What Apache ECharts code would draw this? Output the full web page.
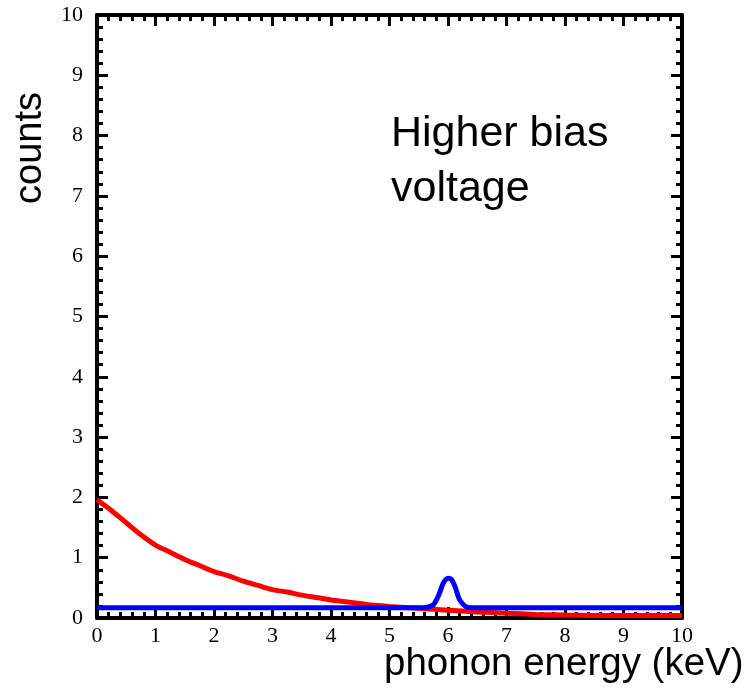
<!DOCTYPE html>
<html><head><meta charset="utf-8">
<script src="https://cdn.jsdelivr.net/npm/echarts@6/dist/echarts.min.js"></script>
<style>html,body{margin:0;padding:0;background:#fff}#c{width:753px;height:695px}</style>
</head><body><div id="c"></div>
<script>
const xTicks = [0,1,2,3,4,5,6,7,8,9,10];
const yTicks = [0,1,2,3,4,5,6,7,8,9,10];
const redX = [0,0.25,0.5,0.75,1,1.25,1.5,1.75,2,2.25,2.5,2.75,3,3.25,3.5,3.75,4,4.25,4.5,4.75,5,5.5,6,6.5,7,7.5,8,9,10];
const redY = [1.96,1.78,1.58,1.38,1.21,1.09,0.97,0.87,0.77,0.70,0.61,0.54,0.47,0.43,0.38,0.34,0.30,0.27,0.24,0.21,0.19,0.16,0.13,0.10,0.08,0.06,0.05,0.04,0.04];
const blueX = [0,5.5,5.65,5.75,5.85,5.92,6.0,6.06,6.12,6.2,6.3,6.4,10];
const blueY = [0.17,0.17,0.18,0.22,0.40,0.58,0.66,0.64,0.52,0.30,0.19,0.17,0.17];

const chart = echarts.init(document.getElementById('c'));
const tickStyle = {color:'#000', width:3};
function xAx(pos, labels){
  return {type:'value', min:0, max:10, interval:1, position:pos,
    axisLine:{show:true, onZero:false, lineStyle:{color:'#000', width:4}},
    axisTick:{show:true, inside:true, length:11, lineStyle:tickStyle},
    minorTick:{show:true, splitNumber:5, length:6, lineStyle:tickStyle},
    splitLine:{show:false},
    axisLabel:{show:labels, margin:7, color:'#000', fontFamily:'Liberation Serif', fontSize:22,
      formatter:v=>xTicks.includes(v)?String(v):''}};
}
function yAx(pos, labels){
  return {type:'value', min:0, max:10, interval:1, position:pos,
    axisLine:{show:true, onZero:false, lineStyle:{color:'#000', width:4}},
    axisTick:{show:true, inside:true, length:11, lineStyle:tickStyle},
    minorTick:{show:true, splitNumber:5, length:6, lineStyle:tickStyle},
    splitLine:{show:false},
    axisLabel:{show:labels, margin:14, color:'#000', fontFamily:'Liberation Serif', fontSize:22,
      formatter:v=>yTicks.includes(v)?String(v):''}};
}
chart.setOption({
  animation:false,
  grid:{left:97, right:71, top:15, bottom:77},
  xAxis:[xAx('bottom',true), xAx('top',false)],
  yAxis:[yAx('left',true), yAx('right',false)],
  series:[
    {type:'line', xAxisIndex:0, yAxisIndex:0, showSymbol:false, symbol:'none', smooth:0.3,
     lineStyle:{color:'#ff0000', width:5}, data:redX.map((x,i)=>[x,redY[i]])},
    {type:'line', xAxisIndex:0, yAxisIndex:0, showSymbol:false, symbol:'none', smooth:0.3,
     lineStyle:{color:'#0000ff', width:5}, data:blueX.map((x,i)=>[x,blueY[i]])}
  ],
  graphic:[
    {type:'text', left:391, top:107, style:{text:'Higher bias\nvoltage', font:'43px "Liberation Sans"', fill:'#000', lineHeight:55}},
    {type:'text', left:384, top:645, style:{text:'phonon energy (keV)', font:'38.5px "Liberation Sans"', fill:'#000'}},
    {type:'text', x:50, y:148, rotation:Math.PI/2, style:{text:'counts', font:'38px "Liberation Sans"', fill:'#000', align:'center', verticalAlign:'bottom'}}
  ]
});
</script></body></html>
